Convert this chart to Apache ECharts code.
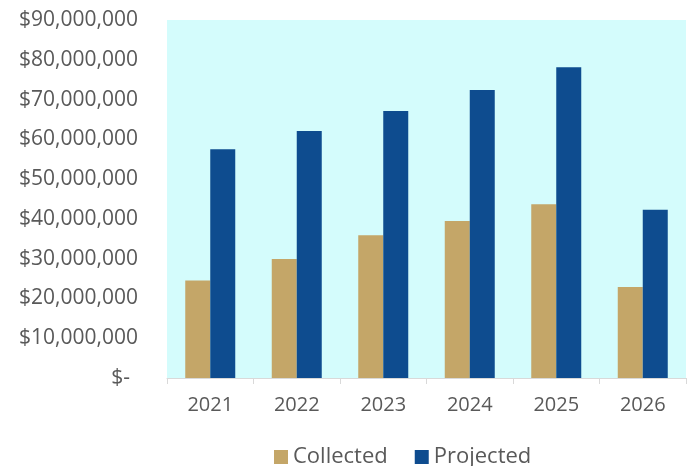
<!DOCTYPE html>
<html>
<head>
<meta charset="utf-8">
<script src="https://cdn.jsdelivr.net/npm/echarts@6/dist/echarts.min.js"></script>
<style>
  html, body { margin: 0; padding: 0; background: #fff; }
  #chart { width: 690px; height: 466px; }
</style>
</head>
<body>
<div id="chart"></div>
<script>
// values
var years = ['2021', '2022', '2023', '2024', '2025', '2026'];
var collected = [24500000, 29900000, 35900000, 39500000, 43700000, 22900000];
var projected = [57500000, 62100000, 67100000, 72400000, 78100000, 42300000];

var chart = echarts.init(document.getElementById('chart'));

// excel accounting style: $- for zero, $12,345,678 otherwise
function money(v) {
  if (v === 0) return '{z|$-}';
  return '$' + v.toLocaleString('en-US');
}

var option = {
  animation: false,
  textStyle: { fontFamily: 'Open Sans, Liberation Sans, sans-serif' },
  grid: {
    left: 167,
    right: 4,
    top: 20,
    bottom: 88,
    show: true,
    backgroundColor: '#D4FCFC',
    borderWidth: 0
  },
  legend: {
    data: ['Collected', 'Projected'],
    left: 274,
    top: 446,
    padding: 0,
    itemWidth: 14,
    itemHeight: 14,
    itemGap: 27,
    icon: 'rect',
    textStyle: { color: '#595959', fontSize: 22 }
  },
  xAxis: {
    type: 'category',
    data: years,
    axisLine: { lineStyle: { color: '#D9D9D9', width: 1 } },
    axisTick: { show: true, length: 6, lineStyle: { color: '#D9D9D9' } },
    axisLabel: { color: '#595959', fontSize: 20, margin: 17 }
  },
  yAxis: {
    type: 'value',
    min: 0,
    max: 90000000,
    interval: 10000000,
    splitLine: { show: false },
    axisLine: { show: false },
    axisTick: { show: false },
    axisLabel: {
      color: '#595959',
      fontSize: 21,
      margin: 29,
      formatter: money,
      rich: { z: { color: '#595959', fontSize: 21, padding: [0, 8, 0, 0] } }
    }
  },
  series: [
    {
      name: 'Collected',
      type: 'bar',
      data: collected,
      barWidth: 25,
      barGap: '0%',
      itemStyle: { color: '#C4A668' }
    },
    {
      name: 'Projected',
      type: 'bar',
      data: projected,
      barWidth: 25,
      itemStyle: { color: '#0E4C8F' }
    }
  ]
};

chart.setOption(option);
</script>
</body>
</html>
